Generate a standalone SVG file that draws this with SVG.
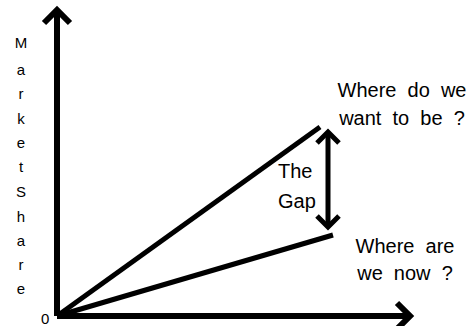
<svg xmlns="http://www.w3.org/2000/svg" width="470" height="326" viewBox="0 0 470 326">
<style>
.ln{stroke:#000;stroke-width:5;fill:none;stroke-linecap:butt;stroke-linejoin:miter}
.ax{stroke-width:6}
.t{font-family:"Liberation Sans",Arial,sans-serif;fill:#000;white-space:pre}
.big{font-size:20px}
.v{font-size:15px;text-anchor:middle}
</style>
<rect width="470" height="326" fill="#fff"/>
<g id="connectors">
<line class="ln ax" x1="57" y1="316" x2="57" y2="11"/>
<polyline class="ln ax" points="44,23 57,10 70,23"/>
<line class="ln ax" x1="57" y1="316" x2="410" y2="316"/>
<polyline class="ln ax" points="397,303 410,316 397,329"/>
<line class="ln" x1="57" y1="316" x2="320" y2="127"/>
<line class="ln" x1="57" y1="316" x2="333" y2="235"/>
<line class="ln" x1="328" y1="134" x2="328" y2="225"/>
<polyline class="ln" points="317,143 328,132 339,143"/>
<polyline class="ln" points="317,216 328,227 339,216"/>
</g>
<g id="y-label">
<text class="t v" x="21" y="48">M</text>
<text class="t v" x="21" y="75">a</text>
<text class="t v" x="21" y="99">r</text>
<text class="t v" x="21" y="124">k</text>
<text class="t v" x="21" y="148">e</text>
<text class="t v" x="21" y="172">t</text>
<text class="t v" x="21" y="197">S</text>
<text class="t v" x="21" y="222">h</text>
<text class="t v" x="21" y="246">a</text>
<text class="t v" x="21" y="270">r</text>
<text class="t v" x="21" y="294">e</text>
</g>
<g id="origin"><text class="t" x="41" y="324" font-size="15">0</text></g>
<g id="target">
<text class="t big" x="402" y="97" text-anchor="middle">Where  do  we</text>
<text class="t big" x="402" y="125" text-anchor="middle">want  to  be  ?</text>
</g>
<g id="gap">
<text class="t big" x="278" y="178">The</text>
<text class="t big" x="278" y="208">Gap</text>
</g>
<g id="current">
<text class="t big" x="405" y="253" text-anchor="middle">Where  are</text>
<text class="t big" x="405" y="280" text-anchor="middle">we  now  ?</text>
</g>
</svg>
